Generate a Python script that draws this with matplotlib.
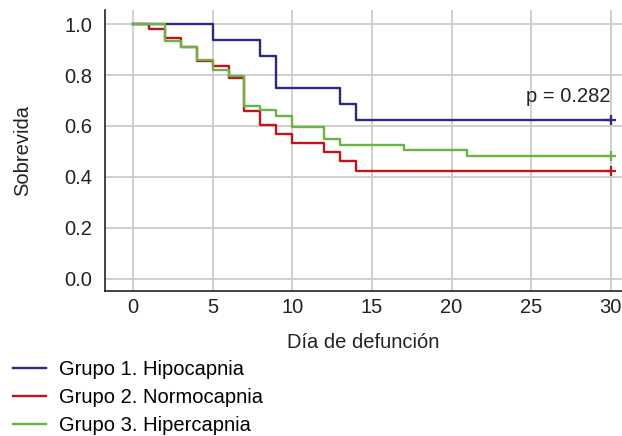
import matplotlib
matplotlib.use("Agg")
import matplotlib.pyplot as plt

plt.rcParams['font.family'] = ['Liberation Sans', 'DejaVu Sans']

# Kaplan-Meier steps (day, survival after the event)
t_hipo = [0, 5, 8, 9, 13, 14, 30]
s_hipo = [1.0, 0.9375, 0.875, 0.75, 0.6875, 0.625, 0.625]

t_normo = [0, 1, 2, 3, 4, 5, 6, 7, 8, 9, 10, 12, 13, 14, 30]
s_normo = [1.0, 0.98, 0.944, 0.911, 0.856, 0.837, 0.787, 0.66, 0.604, 0.567,
           0.533, 0.497, 0.461, 0.423, 0.423]

t_hiper = [0, 2, 3, 4, 5, 6, 7, 8, 9, 10, 12, 13, 17, 21, 30]
s_hiper = [1.0, 0.932, 0.911, 0.859, 0.82, 0.796, 0.68, 0.661, 0.64, 0.597,
           0.548, 0.527, 0.504, 0.482, 0.482]

labels = ["Grupo 1. Hipocapnia", "Grupo 2. Normocapnia", "Grupo 3. Hipercapnia"]
colors = ["#2a2a80", "#c0141e", "#6cb345"]
p_text = "p = 0.282"

fs = 14.5
fig = plt.figure(figsize=(6.22, 4.36), dpi=100)
ax = fig.add_axes([0.169, 0.333, 0.831, 0.644])

series = [(t_hipo, s_hipo), (t_normo, s_normo), (t_hiper, s_hiper)]
for (t, s), lab, c in zip(series, labels, colors):
    ax.step(t, s, where='post', color=c, lw=1.7, label=lab)
    ax.plot(t[-1], s[-1], marker='+', color=c, ms=7, mew=1.6)

ax.set_xlim(-1.75, 30.7)
ax.set_ylim(-0.047, 1.055)
ax.set_xticks(range(0, 31, 5))
ax.set_yticks([0.0, 0.2, 0.4, 0.6, 0.8, 1.0])
ax.set_yticklabels(["0.0", "0.2", "0.4", "0.6", "0.8", "1.0"])
ax.grid(True, color="#cccccc", lw=1.3)
ax.set_axisbelow(True)
ax.tick_params(length=0, labelsize=fs, colors="#222222")
ax.tick_params(axis='y', pad=9.5)
ax.tick_params(axis='x', pad=5)
for side in ['top', 'right']:
    ax.spines[side].set_visible(False)
for side in ['left', 'bottom']:
    ax.spines[side].set_color("#222222")
    ax.spines[side].set_linewidth(1.2)

ax.set_xlabel("Día de defunción", fontsize=fs, color="#222222", labelpad=12)
ax.set_ylabel("Sobrevida", fontsize=fs, color="#222222", labelpad=23)
ax.text(30, 0.715, p_text, fontsize=fs, color="#222222", ha='right', va='center')

fig.legend(loc='upper left', bbox_to_anchor=(0.008, 0.193), frameon=False,
           fontsize=fs, handlelength=1.65, handletextpad=0.65, labelspacing=0.46,
           borderaxespad=0)

fig.savefig("out.png", dpi=100)
